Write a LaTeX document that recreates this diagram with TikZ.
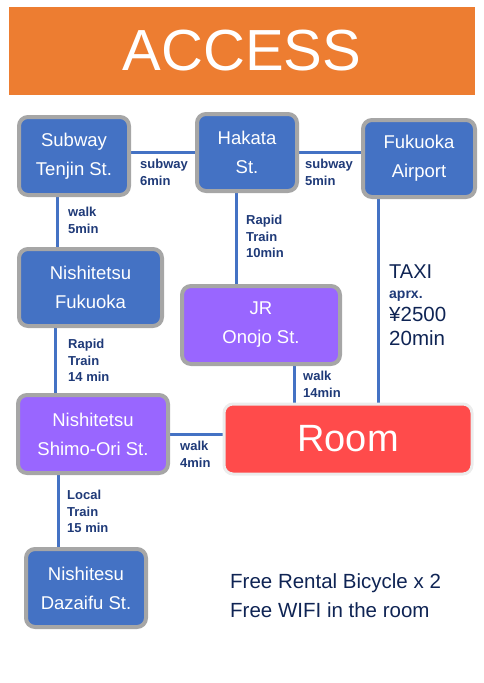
\documentclass[tikz,border=0pt]{standalone}
\usepackage{fontspec}
\setmainfont{Liberation Sans}
\usetikzlibrary{backgrounds}

\definecolor{banner}{HTML}{ED7D31}
\definecolor{stblue}{HTML}{4472C4}
\definecolor{stpurple}{HTML}{9966FF}
\definecolor{roomred}{HTML}{FF4B4B}
\definecolor{rim}{HTML}{A6A6A6}
\definecolor{ink}{HTML}{1F3A78}
\definecolor{navy}{HTML}{0F2454}

\tikzset{
  station/.style={draw=rim, line width=4pt, rounded corners=9pt, text=white,
    align=center, font={\fontsize{18.5}{29}\selectfont}, inner sep=0pt},
  link/.style={draw=stblue, line width=3pt},
  lbl/.style={anchor=north west, inner sep=0pt, align=left, text=ink,
    font={\bfseries\fontsize{13}{16.6}\selectfont}}
}

\begin{document}
\begin{tikzpicture}[x=1pt, y=-1pt]
    \useasboundingbox (0,0) rectangle (483,683);

    \node[fill=banner, minimum width=466pt, minimum height=88pt, inner sep=0pt,
      text=white, font={\fontsize{58}{60}\selectfont}] (title) at (242,51) {ACCESS};

    \node[station, fill=stblue, minimum width=110pt, minimum height=78pt] (tenjin) at (74,156) {Subway\\Tenjin St.};
    \node[station, fill=stblue, minimum width=100pt, minimum height=77pt] (hakata) at (247,152.5) {Hakata\\St.};
    \node[station, fill=stblue, minimum width=112pt, minimum height=77pt] (airport) at (419,158.5) {Fukuoka\\Airport};
    \node[station, fill=stblue, minimum width=143pt, minimum height=77pt] (nfuk) at (90.5,287.5) {Nishitetsu\\Fukuoka};
    \node[station, fill=stpurple, minimum width=158pt, minimum height=78pt] (onojo) at (261,325) {JR\\Onojo St.};
    \node[station, fill=stpurple, minimum width=150pt, minimum height=78pt] (shimo) at (93,434) {Nishitetsu\\Shimo-Ori St.};
    \node[station, fill=stblue, minimum width=120pt, minimum height=78pt] (dazaifu) at (86,588) {Nishitesu\\Dazaifu St.};
    \node[station, fill=roomred, draw=gray!15, line width=3pt, minimum width=248pt, minimum height=70pt,
      font={\fontsize{38}{40}\selectfont}] (room) at (348,439) {Room};

    \begin{scope}[on background layer]
        \draw[link] (tenjin.east |- hakata.west) -- (hakata.west);
        \draw[link] (hakata.east) -- (airport.west |- hakata.east);
        \draw[link] ([xshift=-17pt]tenjin.south) coordinate (c1) -- (c1 |- nfuk.north);
        \draw[link] ([xshift=-11pt]hakata.south) coordinate (c2) -- (c2 |- onojo.north);
        \draw[link] ([xshift=-35.5pt]nfuk.south) coordinate (c3) -- (c3 |- shimo.north);
        \draw[link] ([xshift=33pt]onojo.south) coordinate (c4) -- (c4 |- room.north);
        \draw[link] ([xshift=-41pt]airport.south) coordinate (c5) -- (c5 |- room.north);
        \draw[link] (shimo.east) -- (shimo.east -| room.west);
        \draw[link] ([xshift=-35pt]shimo.south) coordinate (c6) -- (c6 |- dazaifu.north);
    \end{scope}

    \node[lbl] (l1) at (140,159) {subway\\6min};
    \node[lbl] (l2) at (305,159) {subway\\5min};
    \node[lbl] (l3) at (68,207) {walk\\5min};
    \node[lbl] (l4) at (246,215) {Rapid\\Train\\10min};
    \node[lbl] (l5) at (68,339) {Rapid\\Train\\14 min};
    \node[lbl] (l6) at (303,371) {walk\\14min};
    \node[lbl] (l7) at (180,441) {walk\\4min};
    \node[lbl] (l8) at (67,490) {Local\\Train\\15 min};

    \node[anchor=base west, inner sep=0pt, text=navy, font={\fontsize{20}{20}\selectfont}] (taxi) at (389,278) {TAXI};
    \node[anchor=base west, inner sep=0pt, text=ink, font={\bfseries\fontsize{14}{14}\selectfont}] (aprx) at (389,298) {aprx.};
    \node[anchor=base west, inner sep=0pt, text=navy, font={\fontsize{20.5}{20}\selectfont}] (fare) at (389,321) {¥2500};
    \node[anchor=base west, inner sep=0pt, text=navy, font={\fontsize{20.5}{20}\selectfont}] (ride) at (389,345) {20min};

    \node[anchor=base west, inner sep=0pt, text=navy, font={\fontsize{20.5}{20}\selectfont}] (free1) at (230,588) {Free Rental Bicycle x 2};
    \node[anchor=base west, inner sep=0pt, text=navy, font={\fontsize{20.5}{20}\selectfont}] (free2) at (230,617) {Free WIFI in the room};
\end{tikzpicture}
\end{document}
